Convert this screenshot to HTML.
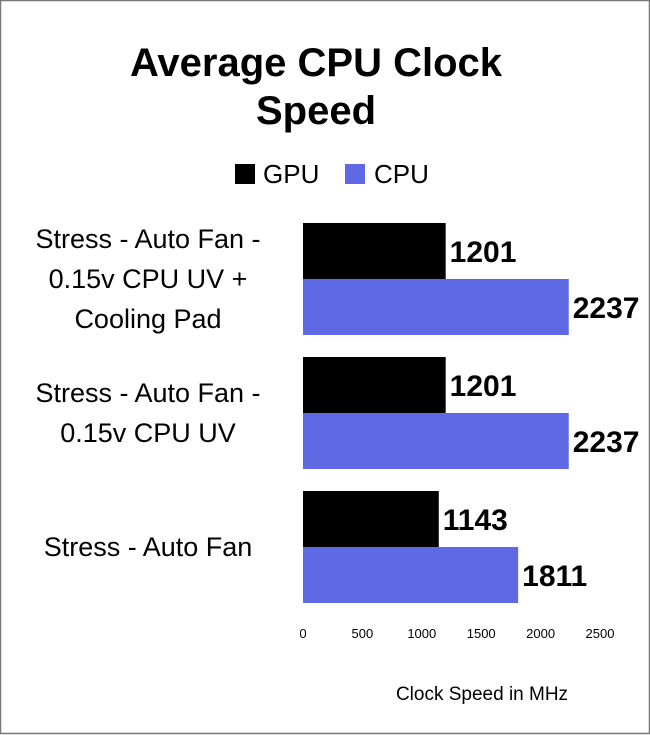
<!DOCTYPE html>
<html><head><meta charset="utf-8"><style>
body{margin:0;background:#fff;}
svg{display:block;font-family:"Liberation Sans",sans-serif;}
</style></head><body>
<svg id="chart" width="650" height="735" viewBox="0 0 650 735">
<rect x="0.5" y="0.5" width="649" height="733" fill="#fff" stroke="#777" stroke-width="1.5"/>
<text x="316" y="76" text-anchor="middle" font-size="40" font-weight="bold">Average CPU Clock</text>
<text x="316" y="124" text-anchor="middle" font-size="40" font-weight="bold">Speed</text>
<g>
<rect x="235" y="164" width="20" height="20" fill="#000"/>
<text x="263" y="183" font-size="26">GPU</text>
<rect x="345" y="164" width="20" height="20" fill="#5f69e4"/>
<text x="374" y="183" font-size="26">CPU</text>
</g>
<g id="plot"></g>
<text x="482" y="700" text-anchor="middle" font-size="19">Clock Speed in MHz</text>
</svg>
<script>
const categories=[["Stress - Auto Fan -","0.15v CPU UV +","Cooling Pad"],["Stress - Auto Fan -","0.15v CPU UV"],["Stress - Auto Fan"]];
const gpuValues=[1201,1201,1143];
const cpuValues=[2237,2237,1811];
const tickValues=[0,500,1000,1500,2000,2500];
const ns="http://www.w3.org/2000/svg";
const g=document.getElementById('plot');
const x0=303,pxPer=297/2500;
const xs=v=>x0+v*pxPer;
const groupTop=i=>223+i*134;
const barH=56;
function mk(t,a){const e=document.createElementNS(ns,t);for(const k in a)e.setAttribute(k,a[k]);g.appendChild(e);return e;}
categories.forEach((c,i)=>{
  const top=groupTop(i);
  const r1=mk('rect',{x:x0,y:top,width:xs(gpuValues[i])-x0,height:barH,fill:'#000'});
  
  
  const r2=mk('rect',{x:x0,y:top+barH,width:xs(cpuValues[i])-x0,height:barH,fill:'#5f69e4'});
  
  
  const t1=mk('text',{x:xs(gpuValues[i])+4,y:top+barH/2+11,'font-size':30,'font-weight':'bold'});
  t1.textContent=gpuValues[i];
  
  
  const t2=mk('text',{x:xs(cpuValues[i])+4,y:top+barH*1.5+11,'font-size':30,'font-weight':'bold'});
  t2.textContent=cpuValues[i];
  
  
  const cy=top+barH, lh=40;
  c.forEach((line,j)=>{
    const t=mk('text',{x:148,y:cy+(j-(c.length-1)/2)*lh+9,'text-anchor':'middle','font-size':27});
    t.textContent=line;
    
    
  });
});
tickValues.forEach(v=>{
  const t=mk('text',{x:xs(v),y:638,'text-anchor':'middle','font-size':13});
  t.textContent=v;
  
  
});
</script>
</body></html>
